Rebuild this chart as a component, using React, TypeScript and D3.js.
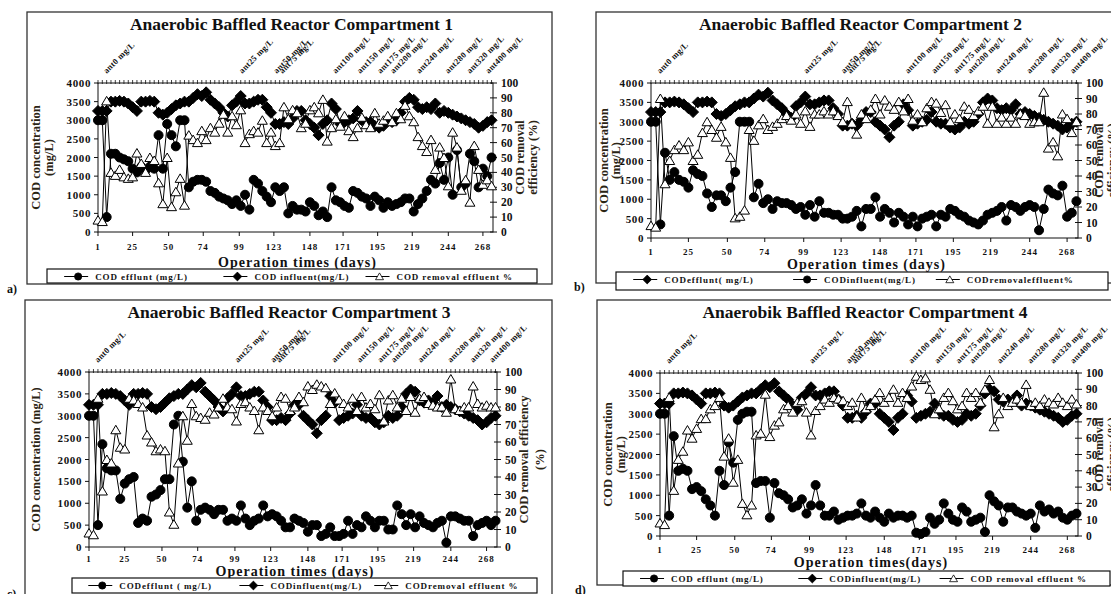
import React, { useEffect, useRef } from 'react';
import * as d3 from 'd3';

// operation days (categories)
const days = [
  1, 4, 7, 10, 13, 16, 19, 22, 25, 28,
  31, 34, 37, 40, 43, 46, 49, 52, 55, 58,
  61, 64, 67, 70, 73, 76, 79, 82, 85, 88,
  91, 94, 97, 100, 103, 106, 109, 112, 115, 118,
  121, 124, 127, 130, 133, 136, 139, 142, 145, 148,
  151, 154, 157, 160, 163, 166, 169, 172, 175, 178,
  181, 184, 187, 190, 193, 196, 199, 202, 205, 208,
  211, 214, 217, 220, 223, 226, 229, 232, 235, 238,
  241, 244, 247, 250, 253, 256, 259, 262, 265, 268,
  271, 274,
];

const xTickDays = [1, 25, 50, 74, 99, 123, 148, 171, 195, 219, 244, 268];
const leftTicks = [0, 500, 1000, 1500, 2000, 2500, 3000, 3500, 4000];
const rightTicks = [0, 10, 20, 30, 40, 50, 60, 70, 80, 90, 100];

const doseDays = [7, 101, 125, 129, 166, 183, 197, 206, 224, 244, 259, 272];
const doseLabels = [
  'ant0 mg/L', 'ant25 mg/L', 'ant50 mg/L', 'ant75 mg/L', 'ant100 mg/L', 'ant150 mg/L',
  'ant175 mg/L', 'ant200 mg/L', 'ant240 mg/L', 'ant280 mg/L', 'ant320 mg/L', 'ant400 mg/L',
];

// COD influent (mg/L), same feed for every compartment
const influent = [
  3250, 3250, 3250, 3500, 3500, 3520, 3500, 3450, 3350, 3250,
  3500, 3500, 3520, 3500, 3200, 3150, 3200, 3300, 3400, 3450,
  3500, 3500, 3600, 3700, 3650, 3750, 3550, 3450, 3350, 3200,
  3100, 3400, 3500, 3650, 3450, 3450, 3500, 3550, 3550, 3350,
  3200, 2900, 2900, 2950, 2900, 3050, 3250, 3250, 3000, 2900,
  2800, 2600, 2900, 3000, 3450, 3300, 2900, 2950, 3000, 3050,
  3250, 3000, 2950, 2950, 2850, 2800, 2850, 3000, 2950, 3000,
  3200, 3500, 3600, 3550, 3350, 3300, 3350, 3300, 3450, 3200,
  3250, 3200, 3150, 3100, 3050, 3000, 2950, 2900, 2800, 2850,
  2950, 3000,
];

// compartment 1
const effluent1 = [
  3000, 3000, 400, 2100, 2100, 2000, 1950, 1900, 1700, 1600,
  1750, 1650, 1750, 1700, 2600, 1700, 2900, 2600, 2300, 3000,
  3000, 1200, 1350, 1400, 1400, 1350, 1100, 1050, 950, 900,
  850, 750, 850, 700, 1000, 600, 1400, 1300, 1100, 950,
  800, 1200, 1100, 1200, 500, 700, 600, 600, 550, 800,
  700, 450, 550, 400, 1200, 850, 800, 700, 650, 1100,
  1050, 950, 900, 700, 950, 850, 650, 800, 700, 750,
  800, 900, 900, 550, 750, 900, 1100, 1400, 1300, 1850,
  1400, 2000, 1000, 2200, 1200, 1300, 2100, 1900, 1200, 1700,
  1500, 2000,
];
const removal1 = [
  8, 7, 88, 40, 38, 42, 37, 36, 37, 53,
  46, 40, 50, 48, 33, 19, 50, 17, 27, 36,
  18, 65, 62, 60, 68, 62, 70, 67, 73, 79,
  67, 78, 72, 82, 60, 66, 68, 67, 75, 60,
  67, 58, 60, 84, 76, 82, 80, 70, 73, 82,
  84, 80, 89, 61, 70, 76, 71, 78, 68, 64,
  70, 77, 72, 70, 80, 73, 75, 78, 74, 80,
  76, 85, 78, 74, 64, 58, 54, 62, 42, 57,
  50, 31, 67, 57, 28, 35, 20, 58, 42, 32,
  35, 31,
];

// compartment 2
const effluent2 = [
  3000, 3000, 350, 2200, 1500, 1700, 1500, 1450, 1300, 1750,
  1650, 1600, 1150, 800, 1100, 1100, 950, 1300, 1700, 3000,
  3000, 3000, 1050, 1400, 900, 1000, 750, 950, 900, 900,
  850, 750, 800, 600, 850, 550, 950, 650, 650, 600,
  600, 500, 500, 550, 700, 300, 750, 750, 1050, 550,
  750, 650, 400, 650, 550, 350, 550, 300, 500, 550,
  600, 300, 600, 550, 750, 700, 600, 550, 450, 400,
  350, 450, 600, 650, 700, 800, 450, 850, 800, 700,
  800, 850, 800, 200, 750, 1250, 1150, 1100, 1350, 550,
  650, 950,
];
const removal2 = [
  8, 7, 90, 35, 50, 57, 60, 57, 62, 50,
  54, 68, 75, 70, 65, 72, 62, 52, 13, 14,
  18, 70, 63, 73, 77, 70, 72, 74, 77, 79,
  76, 80, 74, 82, 72, 80, 80, 82, 80, 82,
  79, 75, 88, 74, 67, 80, 77, 83, 90, 80,
  89, 85, 83, 88, 82, 90, 76, 80, 75, 84,
  88, 87, 81, 86, 75, 80, 77, 85, 83, 79,
  82, 85, 74, 85, 74, 78, 74, 78, 74, 80,
  79, 74, 75, 75, 94, 58, 62, 53, 80, 77,
  68, 75,
];

// compartment 3
const effluent3 = [
  3000, 3000, 500, 2350, 1800, 1750, 1750, 1100, 1450, 1550,
  1600, 550, 650, 600, 1150, 1200, 1300, 1550, 1550, 2800,
  3000, 1950, 900, 1500, 600, 850, 900, 850, 750, 850,
  850, 600, 650, 600, 950, 650, 500, 600, 650, 950,
  700, 750, 700, 600, 450, 450, 650, 600, 550, 350,
  500, 500, 250, 300, 450, 250, 250, 300, 600, 300,
  500, 450, 700, 600, 450, 600, 600, 400, 400, 950,
  750, 500, 750, 450, 700, 550, 500, 450, 550, 600,
  100, 700, 700, 650, 600, 600, 250, 500, 550, 600,
  500, 600,
];
const removal3 = [
  8, 7, 85, 32, 50, 48, 67, 57, 56, 85,
  84, 82, 80, 64, 60, 55, 56, 55, 20, 13,
  48, 75, 61, 82, 75, 74, 73, 77, 76, 80,
  85, 80, 79, 72, 82, 83, 80, 78, 67, 80,
  78, 75, 80, 86, 85, 78, 80, 86, 83, 92,
  90, 93, 92, 91, 82, 88, 84, 82, 80, 85,
  78, 86, 80, 82, 79, 87, 72, 84, 87, 80,
  85, 78, 86, 77, 85, 86, 82, 81, 80, 80,
  77, 96, 79, 78, 80, 80, 92, 82, 80, 81,
  80, 80,
];

// compartment 4
const effluent4 = [
  3000, 3000, 500, 2450, 1600, 1650, 1600, 1150, 1200, 1100,
  900, 750, 500, 1600, 1250, 2300, 1800, 2850, 3000, 3050,
  3050, 1300, 1350, 1350, 450, 1300, 1050, 1000, 900, 700,
  750, 900, 550, 750, 1250, 750, 500, 500, 600, 400,
  450, 500, 500, 550, 800, 500, 450, 600, 450, 350,
  550, 450, 500, 500, 450, 500, 80, 50, 100, 450,
  300, 400, 800, 550, 400, 350, 700, 600, 350, 400,
  450, 100, 1000, 850, 750, 350, 700, 700, 600, 550,
  500, 550, 200, 750, 600, 650, 550, 600, 450, 400,
  500, 550,
];
const removal4 = [
  8, 7, 85, 28, 47, 52, 65, 60, 66, 72,
  72, 78, 80, 85, 49, 60, 33, 47, 20, 13,
  19, 62, 63, 87, 61, 68, 70, 78, 80, 76,
  82, 83, 76, 62, 77, 80, 84, 82, 85, 84,
  83, 80, 82, 73, 85, 78, 80, 84, 88, 82,
  85, 90, 82, 88, 85, 92, 98, 96, 97, 90,
  75, 78, 85, 88, 83, 78, 80, 88, 85, 88,
  82, 90, 96, 67, 75, 85, 80, 82, 84, 82,
  93, 80, 82, 80, 84, 82, 81, 85, 82, 80,
  84, 81,
];

type Panel = {
  letter: string;
  title: string;
  box: [number, number, number, number];
  plot: { L: number; R: number; T: number; B: number };
  letterPos: [number, number];
  tickDy: number;
  xTitle: string;
  xTitleY: number;
  legend: [number, number, number, number];
  legendText: string[];
  legendMarks: string[];
  leftTitle: { text: string; x: number }[];
  rightTitle: { text: string; x: number }[];
  effluent: number[];
  removal: number[];
};

const panels: Panel[] = [
  {
    letter: 'a)', title: 'Anaerobic Baffled Reactor Compartment 1',
    box: [27, 12, 552, 284], plot: { L: 98, R: 493, T: 83, B: 232 }, letterPos: [7, 293],
    tickDy: 18,
    xTitle: 'Operation times (days)', xTitleY: 267,
    legend: [47, 269, 537, 283],
    legendText: ['COD efflunt (mg/L)', 'COD influent(mg/L)', 'COD removal effluent %'],
    legendMarks: ['circle', 'diamond', 'triangle'],
    leftTitle: [{ text: 'COD concentration', x: 40 }, { text: '(mg/L)', x: 53 }],
    rightTitle: [{ text: 'COD removal', x: 524 }, { text: 'efficiency (%)', x: 537 }],
    effluent: effluent1, removal: removal1,
  },
  {
    letter: 'b)', title: 'Anaerobic Baffled Reactor Compartment 2',
    box: [596, 12, 1130, 283], plot: { L: 651, R: 1078, T: 83, B: 238 }, letterPos: [574, 291],
    tickDy: 17,
    xTitle: 'Operation times (days)', xTitleY: 269,
    legend: [616, 272, 1108, 290],
    legendText: ['CODefflunt( mg/L)', 'CODinfluent(mg/L)', 'CODremovaleffluent%'],
    legendMarks: ['diamond', 'circle', 'triangle'],
    leftTitle: [{ text: 'COD concentration', x: 608 }, { text: '(mg/L)', x: 620 }],
    rightTitle: [{ text: 'COD removal', x: 1103 }, { text: 'efficiency (%)', x: 1116 }],
    effluent: effluent2, removal: removal2,
  },
  {
    letter: 'c)', title: 'Anaerobic Baffled Reactor Compartment 3',
    box: [25, 300, 552, 600], plot: { L: 89, R: 497, T: 372, B: 547 }, letterPos: [7, 598],
    tickDy: 15,
    xTitle: 'Operation times (days)', xTitleY: 576,
    legend: [72, 578, 537, 593],
    legendText: ['CODefflunt ( mg/L)', 'CODinfluent(mg/L)', 'CODremoval effluent %'],
    legendMarks: ['circle', 'diamond', 'triangle'],
    leftTitle: [{ text: 'COD concentration (mg/L)', x: 40 }],
    rightTitle: [{ text: 'COD removal efficiency', x: 528 }, { text: '(%)', x: 544 }],
    effluent: effluent3, removal: removal3,
  },
  {
    letter: 'd)', title: 'Anaerobik Baffled Reactor Compartment 4',
    box: [597, 300, 1130, 585], plot: { L: 660, R: 1078, T: 373, B: 536 }, letterPos: [575, 594],
    tickDy: 17,
    xTitle: 'Operation times(days)', xTitleY: 567,
    legend: [623, 571, 1110, 586],
    legendText: ['COD efflunt (mg/L)', 'CODinfluent(mg/L)', 'COD removal effluent %'],
    legendMarks: ['circle', 'diamond', 'triangle'],
    leftTitle: [{ text: 'COD concentration', x: 612 }, { text: '(mg/L)', x: 625 }],
    rightTitle: [{ text: 'COD removal', x: 1103 }, { text: 'efficiency (%)', x: 1116 }],
    effluent: effluent4, removal: removal4,
  },
];

const FONT = '"Liberation Serif", "Times New Roman", serif';

const markPath: Record<string, string> = {
  circle: d3.symbol().type(d3.symbolCircle).size(64)() as string,
  diamond: 'M0,-5.5L5.5,0L0,5.5L-5.5,0Z',
  triangle: 'M0,-4.5L5,4L-5,4Z',
};

const App: React.FC = () => {
  const svgRef = useRef<SVGSVGElement | null>(null);

  useEffect(() => {
    if (!svgRef.current) return;
    const svg = d3.select(svgRef.current);
    svg.selectAll('*').remove();

    panels.forEach((p) => {
      const g = svg.append('g').attr('font-family', FONT).attr('font-weight', 'bold');
      const { L, R, T, B } = p.plot;
      const x = d3.scaleLinear().domain([1, 275]).range([L, R]);
      const y = d3.scaleLinear().domain([0, 4000]).range([B, T]);
      const y2 = d3.scaleLinear().domain([0, 100]).range([B, T]);

      // outer frame
      g.append('rect')
        .attr('x', p.box[0]).attr('y', p.box[1])
        .attr('width', p.box[2] - p.box[0]).attr('height', p.box[3] - p.box[1])
        .attr('fill', 'white').attr('stroke', '#333').attr('stroke-width', 1.3);

      // title
      g.append('text').attr('x', (L + R) / 2 - 4).attr('y', p.box[1] + 18)
        .attr('text-anchor', 'middle').attr('font-size', 17.5).attr('fill', '#111')
        .text(p.title);

      // dosing labels
      doseDays.forEach((dd, i) => {
        g.append('text')
          .attr('transform', `translate(${x(dd)},${T - 9}) rotate(-45)`)
          .attr('font-size', 8.5).attr('letter-spacing', 0.3).attr('fill', '#111')
          .text(doseLabels[i]);
      });

      // plot frame
      g.append('rect').attr('x', L).attr('y', T).attr('width', R - L).attr('height', B - T)
        .attr('fill', 'none').attr('stroke', '#111').attr('stroke-width', 1);

      // top category ticks
      g.selectAll(null).data(days).enter().append('line')
        .attr('x1', (d) => x(d)).attr('x2', (d) => x(d))
        .attr('y1', T - 3).attr('y2', T + 1)
        .attr('stroke', '#111').attr('stroke-width', 0.8);

      // left axis
      g.selectAll(null).data(leftTicks).enter().append('line')
        .attr('x1', L - 4).attr('x2', L).attr('y1', (d) => y(d)).attr('y2', (d) => y(d))
        .attr('stroke', '#111');
      g.selectAll(null).data(leftTicks).enter().append('text')
        .attr('x', L - 7).attr('y', (d) => y(d) + 4).attr('text-anchor', 'end')
        .attr('font-size', 11).attr('letter-spacing', 0.6).attr('fill', '#111')
        .text((d) => d);

      // right axis
      g.selectAll(null).data(rightTicks).enter().append('line')
        .attr('x1', R - 3).attr('x2', R + 4).attr('y1', (d) => y2(d)).attr('y2', (d) => y2(d))
        .attr('stroke', '#111');
      g.selectAll(null).data(rightTicks).enter().append('text')
        .attr('x', R + 8).attr('y', (d) => y2(d) + 4)
        .attr('font-size', 11.5).attr('fill', '#111')
        .text((d) => d);

      // bottom axis
      g.selectAll(null).data(xTickDays).enter().append('line')
        .attr('x1', (d) => x(d)).attr('x2', (d) => x(d)).attr('y1', B).attr('y2', B + 4)
        .attr('stroke', '#111');
      g.selectAll(null).data(xTickDays).enter().append('text')
        .attr('x', (d) => x(d)).attr('y', B + p.tickDy).attr('text-anchor', 'middle')
        .attr('font-size', 9).attr('letter-spacing', 1).attr('fill', '#111')
        .text((d) => d);

      g.append('text').attr('x', (L + R) / 2 + 2).attr('y', p.xTitleY)
        .attr('text-anchor', 'middle').attr('font-size', 14).attr('letter-spacing', 1)
        .attr('fill', '#111').text(p.xTitle);

      // axis titles
      const cy = (T + B) / 2;
      p.leftTitle.forEach((t) => {
        g.append('text').attr('transform', `translate(${t.x},${cy}) rotate(-90)`)
          .attr('text-anchor', 'middle').attr('font-size', 12.5).attr('fill', '#2b2414')
          .text(t.text);
      });
      p.rightTitle.forEach((t) => {
        g.append('text').attr('transform', `translate(${t.x},${cy}) rotate(-90)`)
          .attr('text-anchor', 'middle').attr('font-size', 12.5).attr('fill', '#2b2414')
          .text(t.text);
      });

      // series
      const drawSeries = (vals: number[], sc: d3.ScaleLinear<number, number>, mark: string, fill: string) => {
        const pts: [number, number][] = days.map((d, i) => [x(d), sc(vals[i])]);
        g.append('path').attr('d', d3.line()(pts)).attr('fill', 'none')
          .attr('stroke', '#000').attr('stroke-width', 1);
        g.selectAll(null).data(pts).enter().append('path')
          .attr('d', markPath[mark])
          .attr('transform', (d) => `translate(${d[0]},${d[1]})`)
          .attr('fill', fill).attr('stroke', '#000').attr('stroke-width', 1);
      };
      drawSeries(p.effluent, y, 'circle', '#000');
      drawSeries(influent, y, 'diamond', '#000');
      drawSeries(p.removal, y2, 'triangle', '#fff');

      // legend
      const [lx0, ly0, lx1, ly1] = p.legend;
      g.append('rect').attr('x', lx0).attr('y', ly0).attr('width', lx1 - lx0).attr('height', ly1 - ly0)
        .attr('fill', 'white').attr('stroke', '#111').attr('stroke-width', 1.2);
      const lw = lx1 - lx0;
      const ly = ly0 + 7.5;
      [0.035, 0.36, 0.65].forEach((f, i) => {
        const sx = lx0 + f * lw;
        g.append('line').attr('x1', sx).attr('x2', sx + 24).attr('y1', ly).attr('y2', ly)
          .attr('stroke', '#000').attr('stroke-width', 1);
        g.append('path').attr('d', markPath[p.legendMarks[i]])
          .attr('transform', `translate(${sx + 14},${ly}) scale(0.8)`)
          .attr('fill', p.legendMarks[i] === 'triangle' ? '#fff' : '#000')
          .attr('stroke', '#000');
        g.append('text').attr('x', sx + 31).attr('y', ly + 3.5)
          .attr('font-size', 9).attr('letter-spacing', 0.9).attr('fill', '#111')
          .text(p.legendText[i]);
      });

      // panel letter
      g.append('text').attr('x', p.letterPos[0]).attr('y', p.letterPos[1])
        .attr('font-size', 12).attr('fill', '#111').text(p.letter);
    });
  }, []);

  return (
    <svg
      ref={svgRef}
      width={1111}
      height={594}
      style={{ position: 'absolute', left: 0, top: 0, background: '#fff' }}
    />
  );
};

export default App;
